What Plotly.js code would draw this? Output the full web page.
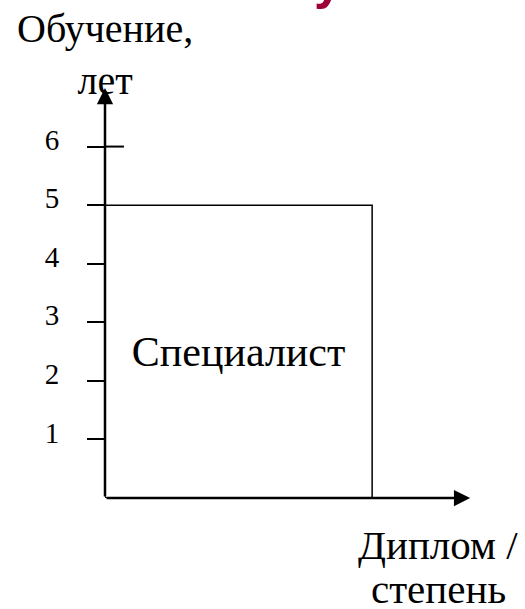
<!DOCTYPE html>
<html><head><meta charset="utf-8">
<script src="https://cdn.plot.ly/plotly-3.0.1.min.js"></script>
<style>html,body{margin:0;padding:0;background:#fff;overflow:hidden;}</style>
</head><body><div id="chart" style="width:525px;height:609px;"></div>
<script>
// ---- data ----
const degrees = ['Специалист'];
const studyYears = [5];
const degreePositions = [0.5];
const yTickValues = [1, 2, 3, 4, 5, 6];
const yTickLabels = ['1', '2', '3', '4', '5', '6'];
const yAxisTitleLines = ['Обучение,', 'лет'];
const xAxisTitleLines = ['Диплом /', 'степень'];
const headerText = 'обучения';
const yAxisMax = 7;
const xAxisMax = 1.367;

// ---- style ----
const serif = 'Liberation Serif, Times New Roman, serif';
const barWidth = 1;
const tickCrossLen = 0.071;

const traces = [
  {
    type: 'bar',
    x: degreePositions,
    y: studyYears,
    width: degrees.map(() => barWidth),
    text: degrees,
    textposition: 'inside',
    insidetextanchor: 'middle',
    textangle: 0,
    textfont: {family: serif, size: 42, color: '#000'},
    marker: {color: 'rgba(255,255,255,0)', line: {color: '#000', width: 1.5}},
    hoverinfo: 'skip'
  },
  {
    type: 'scatter', mode: 'lines',
    x: [0, tickCrossLen],
    y: [yTickValues[yTickValues.length - 1], yTickValues[yTickValues.length - 1]],
    line: {color: '#000', width: 2},
    hoverinfo: 'skip'
  }
];

const annotations = [
  // y axis arrow
  {x: 0, y: yAxisMax, ax: 0, ay: 0, xref: 'x', yref: 'y', axref: 'x', ayref: 'y',
   text: '', showarrow: true, arrowhead: 2, arrowsize: 1.3, arrowwidth: 2.5, arrowcolor: '#000'},
  // x axis arrow
  {x: xAxisMax, y: 0, ax: 0, ay: 0, xref: 'x', yref: 'y', axref: 'x', ayref: 'y',
   text: '', showarrow: true, arrowhead: 2, arrowsize: 1.3, arrowwidth: 2.5, arrowcolor: '#000'},
  // y axis title
  {x: 0, y: yAxisMax, xref: 'x', yref: 'y', xanchor: 'center', yanchor: 'bottom',
   text: yAxisTitleLines.join('<br>'), showarrow: false, yshift: -17,
   font: {family: serif, size: 40, color: '#000'}},
  // x axis title
  {x: 1.245, y: 0, xref: 'x', yref: 'y', xanchor: 'center', yanchor: 'top',
   text: xAxisTitleLines[0], showarrow: false, yshift: -22,
   font: {family: serif, size: 41, color: '#000'}},
  {x: 1.25, y: 0, xref: 'x', yref: 'y', xanchor: 'center', yanchor: 'top',
   text: xAxisTitleLines[1], showarrow: false, yshift: -66,
   font: {family: serif, size: 41, color: '#000'}},
  // cut header
  {x: 1.04, y: 1.187, xref: 'paper', yref: 'paper', xanchor: 'right', yanchor: 'bottom',
   text: '<b>' + headerText + '</b>', showarrow: false,
   font: {family: 'Liberation Sans, Arial, sans-serif', size: 51, color: '#9E0038'}}
];

const layout = {
  width: 525, height: 609,
  margin: {l: 105, r: 46, t: 88, b: 111},
  paper_bgcolor: '#fff', plot_bgcolor: '#fff',
  showlegend: false,
  xaxis: {range: [0, 1.4], showgrid: false, zeroline: false, showline: false,
          showticklabels: false, ticks: '', fixedrange: true},
  yaxis: {range: [0, yAxisMax], showgrid: false, zeroline: false, showline: false,
          tickvals: yTickValues, ticktext: yTickLabels, ticks: 'outside', ticklen: 17,
          tickwidth: 2, tickcolor: '#000', ticklabelstandoff: 22, ticklabelshift: -7,
          tickfont: {family: serif, size: 29, color: '#000'}, fixedrange: true},
  annotations: annotations
};

Plotly.newPlot('chart', traces, layout, {staticPlot: true, displayModeBar: false});
</script></body></html>
